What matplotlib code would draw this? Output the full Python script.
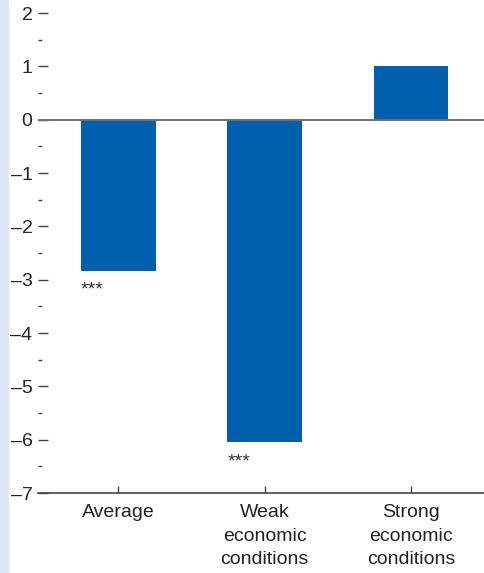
import matplotlib.pyplot as plt
from matplotlib.ticker import MultipleLocator, NullFormatter

categories = ['Average', 'Weak\neconomic\nconditions', 'Strong\neconomic\nconditions']
values = [-2.83, -6.05, 1.0]
stars = ['***', '***', '']
yticks = list(range(-7, 3))

plt.rcParams['font.family'] = ['Liberation Sans', 'DejaVu Sans']

fig = plt.figure(figsize=(4.84, 5.73), dpi=100)
# light blue strip along the left edge
strip = plt.Rectangle((0, 0), 8 / 484, 1, transform=fig.transFigure,
                      color='#dfe9f6', zorder=-5)
fig.add_artist(strip)

ax = fig.add_axes([38 / 484, (573 - 493) / 573, 1 - 38 / 484, (493 - 13) / 573])
ax.patch.set_alpha(0)
x = range(len(categories))
ax.bar(x, values, width=0.51, color='#0060ad', zorder=2)
ax.axhline(0, color='#707070', lw=1.4, zorder=3)

for i, (v, s) in enumerate(zip(values, stars)):
    if s:
        ax.text(i - 0.255, v - 0.2, s, ha='left', va='top', fontsize=14,
                color='#333333')

ax.set_xlim(-0.55, 2.5)
ax.set_ylim(-7, 2)
ax.set_yticks(yticks)
ax.set_yticklabels(['\u2013' + str(abs(t)) if t < 0 else str(t) for t in yticks])
ax.yaxis.set_minor_locator(MultipleLocator(0.5))
ax.yaxis.set_minor_formatter(NullFormatter())
ax.set_xticks(list(x))
ax.set_xticklabels(categories, linespacing=1.5)

for sp in ['top', 'right', 'left']:
    ax.spines[sp].set_visible(False)
ax.spines['bottom'].set_color('#444444')
ax.spines['bottom'].set_linewidth(1.2)

ax.tick_params(axis='y', which='major', direction='in', length=7, width=1,
               color='#444444', pad=4, labelsize=14, labelcolor='#222222')
ax.tick_params(axis='y', which='minor', direction='in', length=3, width=1,
               color='#444444')
ax.tick_params(axis='x', direction='in', length=5, width=1, color='#444444',
               pad=8, labelsize=14, labelcolor='#222222')

fig.savefig('out.png', dpi=100)
